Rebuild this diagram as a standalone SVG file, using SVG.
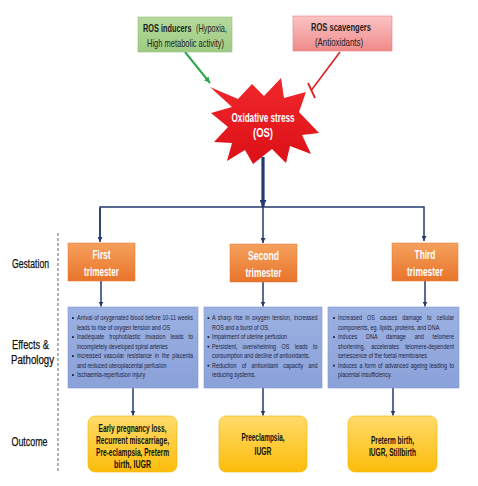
<svg xmlns="http://www.w3.org/2000/svg" width="478" height="486" viewBox="0 0 478 486">
<defs>
<linearGradient id="gGreen" x1="0" y1="0" x2="0" y2="1"><stop offset="0" stop-color="#b5d99c"/><stop offset="1" stop-color="#9fcb83"/></linearGradient>
<linearGradient id="gRed" x1="0" y1="0" x2="0" y2="1"><stop offset="0" stop-color="#fbc4c4"/><stop offset="1" stop-color="#f08a8a"/></linearGradient>
<linearGradient id="gStar" x1="0" y1="0" x2="0" y2="1"><stop offset="0" stop-color="#f0282c"/><stop offset="1" stop-color="#dc1016"/></linearGradient>
<linearGradient id="gOrange" x1="0" y1="0" x2="0" y2="1"><stop offset="0" stop-color="#f5a15d"/><stop offset="1" stop-color="#e8742a"/></linearGradient>
<linearGradient id="gBlue" x1="0" y1="0" x2="0" y2="1"><stop offset="0" stop-color="#9cb1e2"/><stop offset="1" stop-color="#8aa1d9"/></linearGradient>
<linearGradient id="gYellow" x1="0" y1="0" x2="0" y2="1"><stop offset="0" stop-color="#ffdb6a"/><stop offset="1" stop-color="#fcbc0a"/></linearGradient>
<marker id="mNavy" viewBox="0 0 6 6" refX="6" refY="3" markerWidth="5" markerHeight="5" markerUnits="userSpaceOnUse" orient="auto"><path d="M0,0 L6,3 L0,6 z" fill="#233a6e"/></marker>
<marker id="mNavyBig" viewBox="0 0 6 6" refX="6" refY="3" markerWidth="7" markerHeight="7" markerUnits="userSpaceOnUse" orient="auto"><path d="M0,0 L6,3 L0,6 z" fill="#233a6e"/></marker>
<marker id="mGreen" viewBox="0 0 6 6" refX="6" refY="3" markerWidth="6" markerHeight="6" markerUnits="userSpaceOnUse" orient="auto"><path d="M0,0 L6,3 L0,6 z" fill="#2fa84f"/></marker>
</defs>
<style>
.nav{stroke:#233a6e;stroke-width:1.5;fill:none}
.lbl{font-family:"Liberation Sans",Arial,sans-serif;font-size:12.5px;fill:#111;stroke:#111;stroke-width:0.25}
.top{font-family:"Liberation Sans",Arial,sans-serif;font-size:10.5px;fill:#222}
.tri{font-family:"Liberation Sans",Arial,sans-serif;font-size:12px;font-weight:bold;fill:#fff;text-anchor:middle}
.bt{font-family:"Liberation Sans",Arial,sans-serif;font-size:6.8px;fill:#1a1f3c}
.out{font-family:"Liberation Sans",Arial,sans-serif;font-size:10.5px;font-weight:bold;fill:#111;text-anchor:middle}
.os{font-family:"Liberation Sans",Arial,sans-serif;font-size:12px;font-weight:bold;fill:#fff;text-anchor:middle}
.blue{fill:url(#gBlue);stroke:#8398cf;stroke-width:0.6}
.orange{fill:url(#gOrange);stroke:#e67a35;stroke-width:0.5}
.yellow{fill:url(#gYellow);stroke:#f0b400;stroke-width:0.6}
.bul{fill:#1a1f3c}
</style>
<rect width="478" height="486" fill="#fff"/>

<g id="connectors">
<line x1="185" y1="52" x2="210" y2="83" stroke="#2fa84f" stroke-width="2" marker-end="url(#mGreen)"/>
<line x1="340" y1="52" x2="311.5" y2="90" stroke="#e02020" stroke-width="1.6"/>
<line x1="308" y1="83" x2="315" y2="98" stroke="#e02020" stroke-width="1.8"/>
<line x1="263" y1="157" x2="263" y2="207" stroke="#233a6e" stroke-width="3.2" marker-end="url(#mNavyBig)"/>
<polyline class="nav" points="100,241 100,207 424,207 424,241" marker-end="url(#mNavy)"/>
<line class="nav" x1="100" y1="208" x2="100" y2="242" marker-end="url(#mNavy)"/>
<line class="nav" x1="263" y1="207" x2="263" y2="243" marker-end="url(#mNavy)"/>
<line class="nav" x1="101" y1="281" x2="101" y2="306.5" marker-end="url(#mNavy)"/>
<line class="nav" x1="263" y1="282" x2="263" y2="306.5" marker-end="url(#mNavy)"/>
<line class="nav" x1="425" y1="281" x2="425" y2="306.5" marker-end="url(#mNavy)"/>
<line class="nav" x1="133" y1="388" x2="133" y2="415.5" marker-end="url(#mNavy)"/>
<line class="nav" x1="263" y1="388" x2="263" y2="415.5" marker-end="url(#mNavy)"/>
<line class="nav" x1="393" y1="388" x2="393" y2="415.5" marker-end="url(#mNavy)"/>
<line x1="58" y1="233" x2="58" y2="471" stroke="#808080" stroke-width="1.2" stroke-dasharray="3 2"/>
</g>

<g id="ros-inducers">
<rect x="138" y="17" width="94" height="35" fill="url(#gGreen)" stroke="#93c078" stroke-width="0.6"/>
<g transform="translate(143 31.5) scale(0.7 1)">
<text class="top" x="0" y="0" font-weight="bold">ROS inducers</text>
<text class="top" x="75.7" y="0">(Hypoxia,</text>
</g>
<text class="top" x="147" y="46.5" textLength="77" lengthAdjust="spacingAndGlyphs">High metabolic activity)</text>
</g>

<g id="ros-scavengers">
<rect x="293" y="16" width="99" height="35" fill="url(#gRed)" stroke="#e88080" stroke-width="0.6"/>
<text class="top" x="311" y="31" textLength="60" lengthAdjust="spacingAndGlyphs" font-weight="bold">ROS scavengers</text>
<text class="top" x="315" y="46" textLength="48" lengthAdjust="spacingAndGlyphs">(Antioxidants)</text>
</g>

<g id="oxidative-stress">
<polygon fill="url(#gStar)" points="210,87 238,99 252,84 264,96 281,78 284,98 306,92 299,112 319,133 302,135 311,154 290,146 286,163 272,149 253,164 245,150 227,161 232,143 214,142 228,127 211,113 232,107"/>
<text class="os" x="263" y="122" textLength="63" lengthAdjust="spacingAndGlyphs">Oxidative stress</text>
<text class="os" x="263" y="137" textLength="20" lengthAdjust="spacingAndGlyphs">(OS)</text>
</g>

<g id="labels">
<text class="lbl" x="12" y="268" textLength="37" lengthAdjust="spacingAndGlyphs">Gestation</text>
<text class="lbl" x="12" y="349" textLength="37" lengthAdjust="spacingAndGlyphs">Effects &amp;</text>
<text class="lbl" x="11" y="364" textLength="43" lengthAdjust="spacingAndGlyphs">Pathology</text>
<text class="lbl" x="11.5" y="446" textLength="36" lengthAdjust="spacingAndGlyphs">Outcome</text>
</g>

<g id="first-trimester">
<rect class="orange" x="68" y="243" width="67" height="38"/>
<text class="tri" x="101.5" y="259" textLength="18" lengthAdjust="spacingAndGlyphs">First</text>
<text class="tri" x="101.5" y="276" textLength="35" lengthAdjust="spacingAndGlyphs">trimester</text>
</g>
<g id="second-trimester">
<rect class="orange" x="230" y="244" width="67" height="38"/>
<text class="tri" x="263.5" y="260" textLength="31" lengthAdjust="spacingAndGlyphs">Second</text>
<text class="tri" x="263.5" y="277" textLength="36" lengthAdjust="spacingAndGlyphs">trimester</text>
</g>
<g id="third-trimester">
<rect class="orange" x="392" y="243" width="66" height="38"/>
<text class="tri" x="425" y="259" textLength="21" lengthAdjust="spacingAndGlyphs">Third</text>
<text class="tri" x="425" y="276" textLength="36" lengthAdjust="spacingAndGlyphs">trimester</text>
</g>

<g id="first-effects">
<rect class="blue" x="68" y="307" width="130" height="81"/>
<rect class="bul" x="72" y="317.2" width="1.8" height="1.8"/>
<rect class="bul" x="72" y="336.2" width="1.8" height="1.8"/>
<rect class="bul" x="72" y="355.2" width="1.8" height="1.8"/>
<rect class="bul" x="72" y="374.2" width="1.8" height="1.8"/>
<g transform="translate(77 0) scale(0.8 1)">
<text class="bt" x="0" y="320.5" textLength="145" lengthAdjust="spacing">Arrival of oxygenated blood before 10-11 weeks</text>
<text class="bt" x="0" y="330">leads to rise of oxygen tension and OS</text>
<text class="bt" x="0" y="339.5" word-spacing="4.3" textLength="145" lengthAdjust="spacing">Inadequate trophoblastic invasion leads to</text>
<text class="bt" x="0" y="349">incompletely developed spiral arteries</text>
<text class="bt" x="0" y="358.5" word-spacing="1.7" textLength="145" lengthAdjust="spacing">Increased vascular resistance in the placenta</text>
<text class="bt" x="0" y="368">and reduced uteroplacental perfusion</text>
<text class="bt" x="0" y="377.5">Ischaemia-reperfusion injury</text>
</g>
</g>

<g id="second-effects">
<rect class="blue" x="204" y="307" width="118" height="81"/>
<rect class="bul" x="207.5" y="317.2" width="1.8" height="1.8"/>
<rect class="bul" x="207.5" y="336.2" width="1.8" height="1.8"/>
<rect class="bul" x="207.5" y="345.7" width="1.8" height="1.8"/>
<rect class="bul" x="207.5" y="364.7" width="1.8" height="1.8"/>
<g transform="translate(212 0) scale(0.8 1)">
<text class="bt" x="0" y="320.5" word-spacing="1.2" textLength="132" lengthAdjust="spacing">A sharp rise in oxygen tension, increased</text>
<text class="bt" x="0" y="330">ROS and a burst of OS.</text>
<text class="bt" x="0" y="339.5">Impairment of uterine perfusion</text>
<text class="bt" x="0" y="349" word-spacing="5" textLength="132" lengthAdjust="spacing">Persistent, overwhelming OS leads to</text>
<text class="bt" x="0" y="358.5">consumption and decline of antioxidants.</text>
<text class="bt" x="0" y="368" word-spacing="4.6" textLength="132" lengthAdjust="spacing">Reduction of antioxidant capacity and</text>
<text class="bt" x="0" y="377.5">reducing systems.</text>
</g>
</g>

<g id="third-effects">
<rect class="blue" x="328" y="307" width="131" height="81"/>
<rect class="bul" x="333" y="317.2" width="1.8" height="1.8"/>
<rect class="bul" x="333" y="336.2" width="1.8" height="1.8"/>
<rect class="bul" x="333" y="364.7" width="1.8" height="1.8"/>
<g transform="translate(338 0) scale(0.8 1)">
<text class="bt" x="0" y="320.5" word-spacing="4.4" textLength="145" lengthAdjust="spacing">Increased OS causes damage to cellular</text>
<text class="bt" x="0" y="330">components, eg. lipids, proteins, and DNA</text>
<text class="bt" x="0" y="339.5" word-spacing="9" textLength="145" lengthAdjust="spacing">Induces DNA damage and telomere</text>
<text class="bt" x="0" y="349" word-spacing="5.8" textLength="145" lengthAdjust="spacing">shortening, accelerates telomere-dependent</text>
<text class="bt" x="0" y="358.5">senescence of the foetal membranes</text>
<text class="bt" x="0" y="368" word-spacing="1" textLength="145" lengthAdjust="spacing">Induces a form of advanced ageing leading to</text>
<text class="bt" x="0" y="377.5">placental insufficiency.</text>
</g>
</g>

<g id="first-outcome">
<rect class="yellow" x="88" y="416" width="89" height="56" rx="7"/>
<text class="out" x="132.5" y="432" textLength="68" lengthAdjust="spacingAndGlyphs">Early pregnancy loss,</text>
<text class="out" x="132.5" y="444" textLength="73" lengthAdjust="spacingAndGlyphs">Recurrent miscarriage,</text>
<text class="out" x="132.5" y="456" textLength="73" lengthAdjust="spacingAndGlyphs">Pre-eclampsia, Preterm</text>
<text class="out" x="132.5" y="468" textLength="37" lengthAdjust="spacingAndGlyphs">birth, IUGR</text>
</g>
<g id="second-outcome">
<rect class="yellow" x="219" y="416" width="88" height="56" rx="7"/>
<text class="out" x="263" y="440.5" textLength="43" lengthAdjust="spacingAndGlyphs">Preeclampsia,</text>
<text class="out" x="263" y="454.5" textLength="17" lengthAdjust="spacingAndGlyphs">IUGR</text>
</g>
<g id="third-outcome">
<rect class="yellow" x="348" y="416" width="89" height="56" rx="7"/>
<text class="out" x="392.5" y="443.5" textLength="43" lengthAdjust="spacingAndGlyphs">Preterm birth,</text>
<text class="out" x="392.5" y="455.5" textLength="47" lengthAdjust="spacingAndGlyphs">IUGR, Stillbirth</text>
</g>
</svg>
